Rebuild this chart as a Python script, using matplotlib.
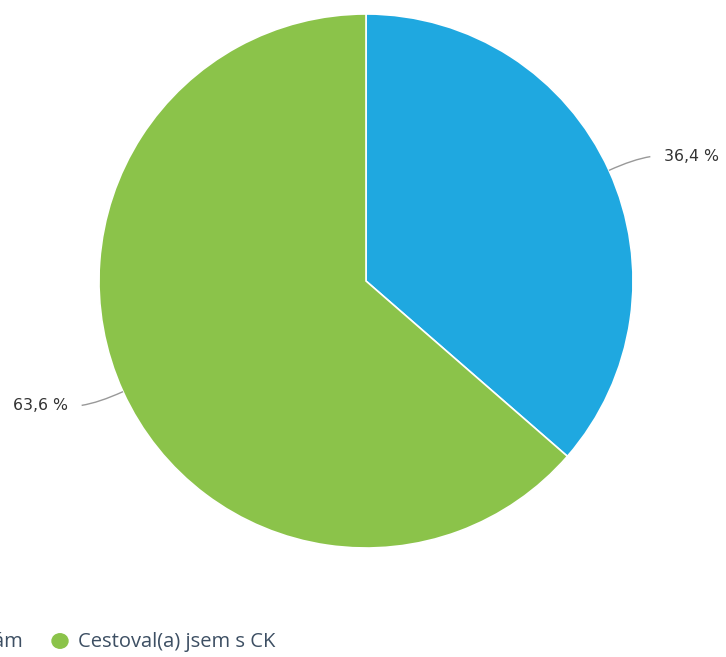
import numpy as np
import matplotlib
matplotlib.use("Agg")
import matplotlib.pyplot as plt
from matplotlib.path import Path
from matplotlib.patches import PathPatch

# Data
categories = ["Cestoval(a) jsem sám", "Cestoval(a) jsem s CK"]
values = [36.4, 63.6]
labels = ["36,4 %", "63,6 %"]
colors = ["#1fa8e0", "#8bc34a"]

W, H = 726, 657
fig = plt.figure(figsize=(W / 100, H / 100), dpi=100)

# pie placed by pixel centre / radius
cx, cy, r = 366, 281, 267
ax = fig.add_axes([(cx - r) / W, (H - cy - r) / H, 2 * r / W, 2 * r / H])
wedges, _ = ax.pie(values, colors=colors, startangle=90, counterclock=False,
                   radius=1, wedgeprops=dict(edgecolor="white", linewidth=1.2))
ax.set_xlim(-1, 1)
ax.set_ylim(-1, 1)
ax.set_aspect("equal")
ax.axis("off")

# labels with curved leader lines
for w, lab in zip(wedges, labels):
    mid = np.deg2rad((w.theta1 + w.theta2) / 2)
    ex, ey = np.cos(mid), np.sin(mid)
    side = 1 if ex > 0 else -1
    kx, ky = np.cos(mid) * 1.1, np.sin(mid) * 1.1
    endx, endy = side * 1.065, ky + 0.01 * np.sign(ey)
    path = Path([(ex, ey), (kx, ky), (endx, endy)],
                [Path.MOVETO, Path.CURVE3, Path.CURVE3])
    ax.add_patch(PathPatch(path, fill=False, edgecolor="#999999", lw=1, clip_on=False))
    ax.text(endx + side * 0.05, endy, lab, ha="left" if side > 0 else "right",
            va="center", fontsize=11.3, family="DejaVu Sans", color="#333333",
            clip_on=False)

# legend (first item runs off the left edge, as in the source)
ly = 1 - 642 / H
fig.text(23 / W, ly, categories[0], ha="right", va="center",
         fontsize=14.5, family="Open Sans", color="#3d4f63")
fig.text(78 / W, ly, categories[1], ha="left", va="center",
         fontsize=14.5, family="Open Sans", color="#3d4f63")
fig.patches.append(plt.Circle((60 / W, 1 - 641 / H), 8 / W, transform=fig.transFigure,
                              color=colors[1], figure=fig))

fig.savefig("out.png", dpi=100)
